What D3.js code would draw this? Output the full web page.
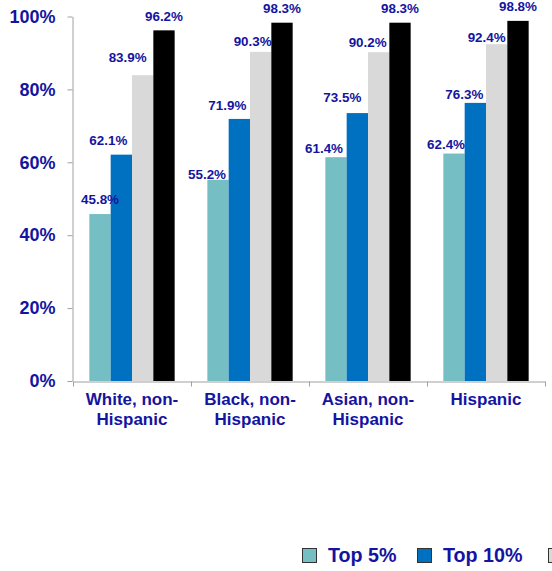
<!DOCTYPE html>
<html>
<head>
<meta charset="utf-8">
<script src="https://cdn.jsdelivr.net/npm/d3@7/dist/d3.min.js"></script>
<style>
  html, body { margin: 0; padding: 0; background: #fff; }
  svg { display: block; }
  text { font-family: Arial, "Liberation Sans", sans-serif; font-weight: bold; }
</style>
</head>
<body>
<svg id="chart" width="552" height="571"></svg>
<script>
// ---- data ----
const categories = ["White, non-Hispanic", "Black, non-Hispanic", "Asian, non-Hispanic", "Hispanic"];
const seriesNames = ["Top 5%", "Top 10%", "Top 25%", "Top 50%"];
const top5  = [45.8, 55.2, 61.4, 62.4];
const top10 = [62.1, 71.9, 73.5, 76.3];
const top25 = [83.9, 90.3, 90.2, 92.4];
const top50 = [96.2, 98.3, 98.3, 98.8];
const yTicks = [0, 20, 40, 60, 80, 100];

// label nudges (layout only), per series then per category
const labelDx = [[0, -11, -12, -8], [-13, -12, -15, -11], [-15, -8, -11, -10], [0, 0, 0, 0]];
const labelDy = [[-10, -0.5, -4, -5], [-10, -8.5, -11, -3.5], [-13.5, -6, -5, -2.5], [-9, -9.5, -9.5, -9.5]];

const seriesValues = [top5, top10, top25, top50];
const colors = ["#74bec4", "#0070c0", "#d9d9d9", "#000000"];
const textColor = "#1414a0";
const axisColor = "#a0a0a0";

const W = 552;
const svg = d3.select("#chart");
const plotLeft = 73, plotRight = 545, plotTop = 16.5, plotBottom = 381;

const x0 = d3.scaleBand().domain(categories).range([plotLeft, plotRight]).padding(0);
const x1 = d3.scaleBand().domain(seriesNames).range([0, x0.bandwidth()]).paddingInner(0).paddingOuter(0.766);
const y = d3.scaleLinear().domain([0, 100]).range([plotBottom, plotTop]);

// bars
const rows = [];
seriesNames.forEach((s, si) => {
  categories.forEach((c, ci) => {
    rows.push({ s, si, c, ci, v: seriesValues[si][ci] });
  });
});

svg.append("g").selectAll("rect").data(rows).join("rect")
  .attr("x", d => x0(d.c) + x1(d.s))
  .attr("y", d => y(d.v))
  .attr("width", x1.bandwidth())
  .attr("height", d => y(0) - y(d.v))
  .attr("fill", d => colors[d.si]);

// value labels
svg.append("g").selectAll("text").data(rows).join("text")
  .attr("x", d => x0(d.c) + x1(d.s) + x1.bandwidth() / 2 + labelDx[d.si][d.ci])
  .attr("y", d => y(d.v) + labelDy[d.si][d.ci])
  .attr("text-anchor", "middle")
  .attr("font-size", "13.4px")
  .attr("fill", textColor)
  .text(d => d.v.toFixed(1) + "%");

// y axis
const yAxis = svg.append("g")
  .attr("transform", `translate(${plotLeft - 0.5},0)`)
  .call(d3.axisLeft(y).tickValues(yTicks).tickSize(5).tickSizeOuter(0).tickFormat(d => d + "%"));
yAxis.select(".domain").attr("stroke", axisColor);
yAxis.selectAll(".tick line").attr("stroke", axisColor);
yAxis.selectAll(".tick text")
  .attr("x", -17)
  .attr("font-size", "18px")
  .attr("font-family", "Arial, 'Liberation Sans', sans-serif")
  .attr("font-weight", "bold")
  .attr("fill", textColor);

// x axis
const xAxis = svg.append("g")
  .attr("transform", `translate(0,${plotBottom + 0.5})`)
  .call(d3.axisBottom(x0).tickSize(0).tickSizeOuter(0).tickFormat(""));
xAxis.select(".domain").attr("stroke", axisColor);
const edges = categories.map(c => x0(c)).concat([x0(categories[categories.length - 1]) + x0.bandwidth()]);
xAxis.selectAll("line.edge").data(edges).join("line")
  .attr("class", "edge")
  .attr("x1", d => Math.round(d) + 0.5).attr("x2", d => Math.round(d) + 0.5)
  .attr("y1", 0).attr("y2", 5)
  .attr("stroke", axisColor);

// category labels
const catG = svg.append("g");
categories.forEach(c => {
  const lines = c.split(/(?<=non-)\s*/);
  const t = catG.append("text")
    .attr("x", x0(c) + x0.bandwidth() / 2)
    .attr("y", 405)
    .attr("text-anchor", "middle")
    .attr("font-size", "17px")
    .attr("fill", textColor);
  lines.forEach((ln, i) => {
    t.append("tspan").attr("x", x0(c) + x0.bandwidth() / 2).attr("dy", i === 0 ? 0 : 20).text(ln);
  });
});

// legend (the chart is cropped at the right edge: only items that fit get their text)
const legendX = [302, 417, 548, 680];
const lg = svg.append("g");
seriesNames.forEach((s, i) => {
  if (legendX[i] >= W) return;
  lg.append("rect")
    .attr("x", legendX[i] + 0.5).attr("y", 548.5)
    .attr("width", 14).attr("height", 14)
    .attr("fill", colors[i]).attr("stroke", "#333").attr("stroke-width", 1);
  if (legendX[i] + 26 + 80 > W) return;
  lg.append("text")
    .attr("x", legendX[i] + 26).attr("y", 562.3)
    .attr("font-size", "19.7px")
    .attr("fill", textColor)
    .text(s);
});
</script>
</body>
</html>
